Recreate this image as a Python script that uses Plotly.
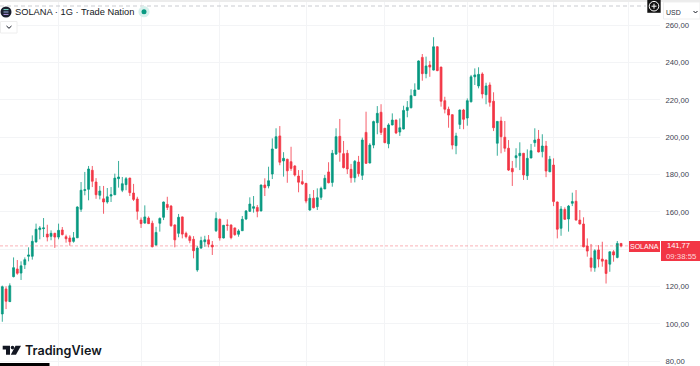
import plotly.graph_objects as go

opens = [105.3,118.7,111.9,125.3,129.4,127.2,131.7,136.2,136.2,143.9,
150.5,151.0,148.1,146.9,148.5,146.5,150.3,146.7,146,144.2,
146.1,161.4,171.5,172.1,182.3,176,168.9,167,165.3,168.5,
169.2,177.8,171.6,174.6,178.1,170.1,166.9,155.6,154,156.7,
153.9,142.3,153.9,157.1,164,163.1,153,148.5,157.3,148.5,
146.7,145.3,128.9,140.6,144,145,142.2,149.9,156,146,
153,153,151.4,148,149.9,156.2,160.3,161.9,162.4,160.5,
174.4,173.9,180.3,194.1,200.7,187.3,188.2,186.9,184.6,179.2,
176.2,175.3,161,167.3,162.8,167.8,172.3,181.4,175.8,191,
200.5,191.2,191.4,182.8,178.3,186.7,179.6,202.6,186.2,195.8,
207.8,213.4,204.8,196.5,206.6,209.2,202.8,204.4,214.4,215.8,
222.3,225.7,242.8,234.1,238.7,236,248.5,237.6,219.6,215,
212.1,195.5,206.9,214.6,210.3,219,232.4,227.5,233.9,222.8,
228,219.3,196.8,208.7,200,194.1,183.3,189,190.1,191.4,
179.4,188.9,197.1,199,192.3,195.3,181.5,185.1,165.3,151.2,
161.3,156.2,164.6,165.7,155.6,153.5,141.7,135.3,130,139.6,
134.7,134.2,132,138.6,135.6,143.1]
closes = [119.9,112.1,120.4,130.1,127.1,131.1,134.4,136.9,144.2,150.7,
151.4,151.4,146.5,148.5,146.5,150.1,147.8,145.6,144,146.1,
162.6,171.6,171.9,183,176.4,169.2,171.2,165.3,168.1,169.2,
178.1,178.7,175.1,177.8,170.3,166.7,160.3,153.7,157.3,153.7,
141.3,149,156.5,165.3,162.4,152.6,145,157.1,148.1,146.7,
144.6,139.2,140.6,144.6,145,142.7,141.2,156.5,146,152.8,
152.8,146.2,147.8,149.8,156,160.5,164.2,162.8,160.3,174.4,
173,176.7,193.7,200.3,186.6,188.7,182,183.3,179.8,175.9,
175,165.8,167.3,162.2,167.6,172.6,178,175.6,191.4,200.3,
191.9,183.7,183,178.3,187.1,180.5,198.5,186,195.8,208.4,
212.8,202.6,197.1,206.6,209.2,202.3,205.1,214.4,216,222.3,
225.3,240.9,234.1,238.2,237.6,248.5,235.7,219.3,215,211.9,
195.8,200.7,214.6,209.6,219.6,232.4,233.4,233.7,223.2,227.5,
218.7,205.1,208.5,200.3,194.1,182.4,181.5,190.1,191.4,179.8,
188.7,192.8,198.5,192.1,195.3,181.9,188.2,165.5,150.7,161.5,
156,163.1,165.5,155.6,153.5,141.3,139,130.3,139.2,134.7,
133.6,127,138.6,136.9,143.1,141.77]
highs = [120.5,120.1,121.7,135.6,134.2,133.5,135.6,141,147.4,153.7,
152.4,156.7,153.1,150.1,148.8,153.7,151.9,147.8,147.4,149.2,
163,176,181.4,184.6,184.6,178.1,173.9,173.9,172.8,173.3,
180.5,187.3,178.7,178.7,178.3,175,168.1,157,163.5,157.6,
155.3,152,157,165.5,168.1,163.7,153.3,158.9,157.5,149.4,
147.6,147,141.7,146.7,147.2,147.6,144.4,159.8,156.5,153,
156,153.2,151.6,150.7,157.8,161,167.8,168.5,163.7,174.6,
178,184.2,199.4,204.8,206,192,188.5,194.9,185,182.4,
182.4,175.5,169.6,171.7,172.6,173.5,179.8,186.6,193.2,204.8,
209.8,198,193.2,185.7,187.8,190,199.8,213.7,196.8,208.9,
216.7,217.7,205,207.5,212.8,209.5,210.1,216.9,219.4,225.7,
228.9,241.2,244.6,243.2,240.9,253.6,248.7,237.8,221.7,216.4,
212.3,202.4,214.8,215.2,220.8,233.4,236.9,237.5,234.8,229.2,
229.4,224.1,208.7,211,208.7,198.5,187.3,194.1,197.3,191.6,
193.5,196.4,204.8,203.9,201.6,198,190,188.7,165.5,163.1,
162.4,163.7,170.3,171.7,161,157.1,145.8,142.8,140,142.2,
144,134.4,138.8,139.5,144.4,143.3]
lows = [101.1,107.9,111.7,124.9,126.3,123.5,129.4,133.5,134.4,143.5,
145.3,146.5,144.2,144.8,140.7,145.3,147.4,143.5,141.9,143.5,
146,160,168.9,166.2,173.3,167,166.7,159,164.4,165.3,
169,173,170.6,171.6,168.5,165.8,155.8,151.4,153.7,153.5,
141,141.9,149.4,155.6,161,152,141,146.4,145.8,145.8,
143.2,135.1,127.9,140.2,141.3,141,136.9,149.2,144.6,145.8,
149.9,145.3,147.2,146.7,149.8,155.6,160,159.6,157.1,160.3,
168.5,172.6,177.6,194,185,178.9,175.6,182,179,170.5,
174.4,164.6,160.6,161.9,161,166.4,172.2,175.3,173.5,190.5,
186.9,183.3,180.3,175.6,175.8,178.9,177.1,185.7,186,194.1,
201.6,201.2,196.8,194.1,206.4,201.7,200.7,204.2,210.7,215.5,
222.1,225.5,230.3,231.6,232.4,235.8,235.4,216.4,212.8,205.1,
193.5,190.9,204.4,204.3,206.2,218.7,228,226.2,220.8,217.7,
216.4,203.3,190.1,191.4,192.2,181.9,173.9,183.7,182.4,177.1,
177.1,188.7,194.9,191.9,189.2,178.6,181.3,163.1,145.8,147.2,
155.8,149.4,163.1,155.4,153.3,141,136,128,127.9,130.3,
130.6,121.6,127.9,133.3,135.1,141]
sessions = list(range(len(opens)))

# The 140,00 label is hidden behind the last-price tag in the reference, so it stays blank.
price_ticks = [80, 100, 120, 140, 160, 180, 200, 220, 240, 260]
price_labels = ["80,00", "100,00", "120,00", "", "160,00", "180,00", "200,00", "220,00", "240,00", "260,00"]
month_ticks = [15, 37, 58, 81, 102, 124, 147, 167]
last_price = 141.77

GREEN = "#089981"
RED = "#f23645"
INK = "#131722"
GRID = "#f3f4f6"
W, H, PLOT_W = 700, 366, 660


def X(px):
    return px / PLOT_W


def Y(py):
    return 1 - py / H


def path(points, close=True):
    s = "M" + " L".join(f"{X(a):.5f},{Y(b):.5f}" for a, b in points)
    return s + (" Z" if close else "")


def rect(x0, y0, x1, y1, fill, line=None, lw=0):
    return dict(type="rect", xref="paper", yref="paper", x0=X(x0), x1=X(x1), y0=Y(y0), y1=Y(y1),
                fillcolor=fill, line=dict(color=line or fill, width=lw), layer="above")


def circle(cx, cy, r, fill, line=None, lw=0):
    return dict(type="circle", xref="paper", yref="paper", x0=X(cx - r), x1=X(cx + r), y0=Y(cy - r), y1=Y(cy + r),
                fillcolor=fill, line=dict(color=line or fill, width=lw), layer="above")


def seg(x0, y0, x1, y1, color, lw=1, dash="solid"):
    return dict(type="line", xref="paper", yref="paper", x0=X(x0), x1=X(x1), y0=Y(y0), y1=Y(y1),
                line=dict(color=color, width=lw, dash=dash), layer="above")


def txt(x, y, s, size, color=INK, anchor="left", family="Liberation Sans, Arial, sans-serif", weight=400):
    return dict(xref="paper", yref="paper", x=X(x), y=Y(y), text=s,
                showarrow=False, xanchor=anchor, yanchor="middle", align=anchor,
                font=dict(size=size, color=color, family=family, weight=weight), borderpad=0, borderwidth=0)


shapes = [
    rect(0, 0, 700, 2, "#ececec"),
    seg(0, 6, 646, 6, "#c9cbd0", 1, "4px,3px"),
    # current price line
    dict(type="line", xref="paper", yref="y", x0=0, x1=1, y0=last_price, y1=last_price,
         line=dict(color="rgba(242,54,69,0.38)", width=1, dash="3px,2px"), layer="above"),
    # symbol icon
    circle(6, 12, 5.5, "#1b1f2e"),
    seg(3.5, 9.6, 8.5, 9.6, "#7fe3d2", 1),
    seg(3.5, 12, 8.5, 12, "#9fb4e8", 1),
    seg(3.5, 14.4, 8.5, 14.4, "#b79be8", 1),
    # status dot
    circle(144, 11.7, 5.6, "#d6f0ec"),
    circle(144, 11.7, 2.5, GREEN),
    # chevron box
    rect(0.5, 21.5, 17, 33, "#ffffff", "#eeeeee", 1),
    dict(type="path", xref="paper", yref="paper", path=path([(6.5, 26), (9, 28.3), (11.5, 26)], False),
         line=dict(color=INK, width=1), layer="above"),
    # plus button
    rect(647.3, 0, 660.7, 12.8, "#131313"),
    circle(654, 6.2, 4.8, "#131313", "#ffffff", 1),
    seg(651.5, 6.2, 656.5, 6.2, "#ffffff", 1),
    seg(654, 3.7, 654, 8.7, "#ffffff", 1),
    # currency box
    rect(663.5, 2, 700, 19, "#ffffff", "#efefef", 1),
    dict(type="path", xref="paper", yref="paper", path=path([(693.5, 11), (695.5, 13), (697.5, 11)], False),
         line=dict(color=INK, width=1), layer="above"),
    # last price labels
    rect(629, 241, 660, 252, RED),
    rect(661, 241, 700, 261, RED),
    # logo
    dict(type="path", xref="paper", yref="paper", layer="above", fillcolor="#131722", line=dict(width=0),
         path=path([(2.7, 345.8), (10, 345.8), (10, 354.7), (6, 354.7), (6, 349.4), (2.7, 349.4)])),
    circle(12.5, 347.6, 1.8, "#131722"),
    dict(type="path", xref="paper", yref="paper", layer="above", fillcolor="#131722", line=dict(width=0),
         path=path([(15.5, 345.8), (21, 345.8), (16, 354.7), (10.8, 354.7)])),
    # bottom bar
    rect(0, 363, 49.5, 366, "#000000"),
]

annotations = [
    txt(14.5, 12.2, "SOLANA · 1G · Trade Nation", 9.3),
    txt(666, 12, "USD", 7, "#2a2e39"),
    txt(644.5, 246.6, "SOLANA", 7, "#ffffff", "center"),
    txt(678, 245.4, "141,77", 7.5, "#ffffff", "center"),
    txt(681, 256.4, "09:38:55", 7.8, "rgba(255,255,255,0.8)", "center"),
    txt(25, 350.3, "TradingView", 12.6, "#131722", family="Inter, Roboto, sans-serif", weight=600),
]

fig = go.Figure(go.Candlestick(
    x=sessions, open=opens, high=highs, low=lows, close=closes,
    increasing=dict(line=dict(color=GREEN, width=0.8), fillcolor=GREEN),
    decreasing=dict(line=dict(color=RED, width=0.8), fillcolor=RED),
    whiskerwidth=0, showlegend=False, hoverinfo="skip",
))

fig.update_layout(
    width=W, height=H, autosize=False,
    margin=dict(l=0, r=W - PLOT_W, t=0, b=0, pad=0),
    paper_bgcolor="#ffffff", plot_bgcolor="#ffffff",
    showlegend=False, shapes=shapes, annotations=annotations,
    xaxis=dict(range=[-2.3 / 3.75, (PLOT_W - 2.3) / 3.75], rangeslider=dict(visible=False),
               tickmode="array", tickvals=month_ticks, showticklabels=False, ticks="",
               showgrid=True, gridcolor=GRID, gridwidth=1, zeroline=False, showline=False),
    yaxis=dict(side="right", range=[77.4, 273.56], tickmode="array", tickvals=price_ticks, ticktext=price_labels,
               ticks="outside", ticklen=3, tickcolor="rgba(0,0,0,0)", ticklabeloverflow="allow",
               tickfont=dict(size=7.7, color="#3d4350", family="Liberation Sans, Arial, sans-serif"),
               showgrid=True, gridcolor=GRID, gridwidth=1, zeroline=False, showline=False),
)

fig.write_html("out.html", config=dict(displayModeBar=False, responsive=False),
               post_script="document.body.style.margin='0';document.documentElement.style.overflow='hidden';")
